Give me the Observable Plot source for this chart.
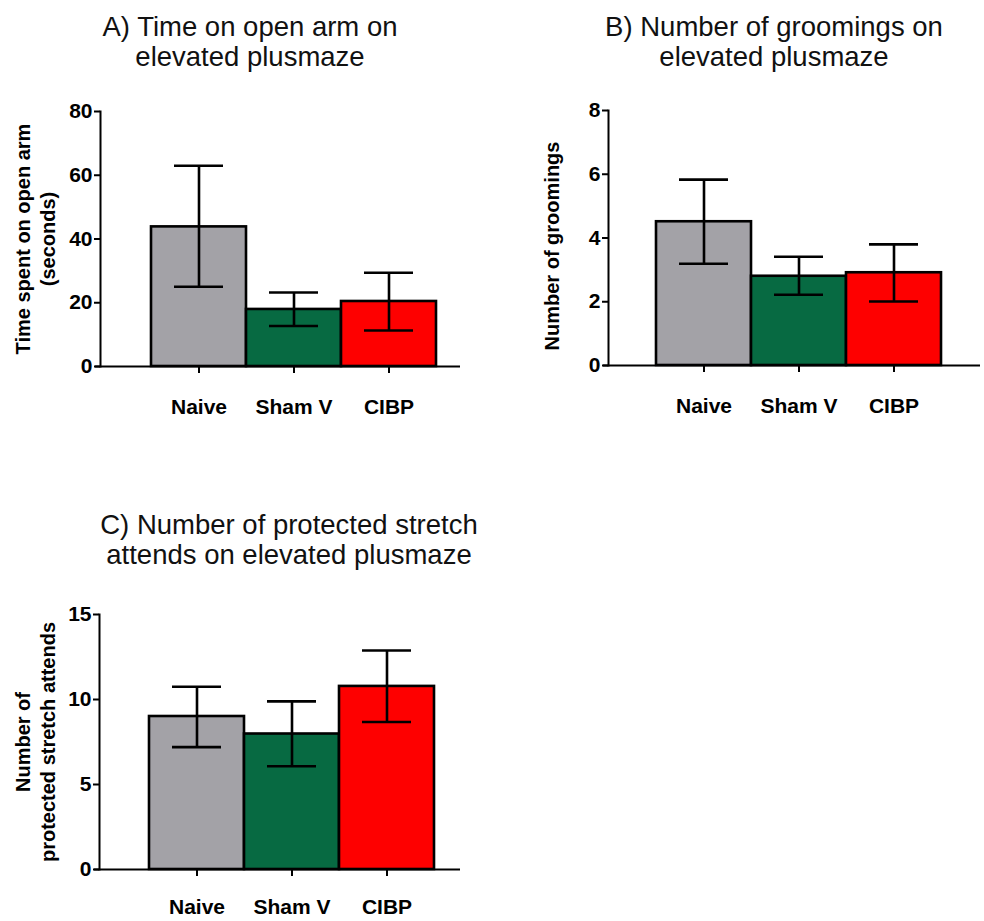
<!DOCTYPE html>
<html>
<head>
<meta charset="utf-8">
<script src="https://cdn.jsdelivr.net/npm/d3@7"></script>
<script src="https://cdn.jsdelivr.net/npm/@observablehq/plot@0.6"></script>
<style>
  html, body { margin: 0; padding: 0; background: white; }
  #root { position: relative; width: 984px; height: 921px; background: white; font-family: "Liberation Sans", Arial, sans-serif; }
  .panel { position: absolute; }
  .title { position: absolute; width: 440px; text-align: center; font-size: 27.5px; line-height: 30px; color: #111; font-family: "Liberation Sans", Arial, sans-serif; white-space: nowrap; }
</style>
</head>
<body>
<div id="root"></div>
<script>
const groups = ["Naive", "Sham V", "CIBP"];
const groupColors = ["#a3a2a7", "#076a42", "#fe0000"];

const timeMean = [43.8, 17.9, 20.4];
const timeLo   = [25.0, 12.7, 11.3];
const timeHi   = [63.0, 23.2, 29.4];
const timeTicks = [0, 20, 40, 60, 80];

const groomMean = [4.51, 2.80, 2.91];
const groomLo   = [3.19, 2.22, 2.01];
const groomHi   = [5.83, 3.41, 3.80];
const groomTicks = [0, 2, 4, 6, 8];

const stretchMean = [9.0, 7.97, 10.77];
const stretchLo   = [7.2, 6.07, 8.68];
const stretchHi   = [10.75, 9.89, 12.88];
const stretchTicks = [0, 5, 10, 15];

const titles = [
  "A) Time on open arm on<br>elevated plusmaze",
  "B) Number of groomings on<br>elevated plusmaze",
  "C) Number of protected stretch<br>attends on elevated plusmaze"
];
const yLabels = [
  "Time spent on open arm\n(seconds)",
  "Number of groomings",
  "Number of\nprotected stretch attends"
];

const root = document.getElementById("root");

function panel(cfg) {
  const rows = groups.map((g, i) => ({group: g, mean: cfg.mean[i], lo: cfg.lo[i], hi: cfg.hi[i]}));
  const ink = {stroke: "black", strokeWidth: 2.6};
  const chart = Plot.plot({
    width: cfg.width,
    height: cfg.height,
    marginTop: cfg.mt,
    marginRight: cfg.mr,
    marginBottom: cfg.mb,
    marginLeft: cfg.ml,
    style: {fontFamily: "'Liberation Sans', Arial, sans-serif", fontWeight: "bold", fontSize: "21px", color: "black", background: "white", overflow: "visible"},
    x: {domain: groups, range: cfg.xRange, padding: 0},
    y: {domain: [0, cfg.ticks[cfg.ticks.length - 1]]},
    color: {domain: groups, range: groupColors},
    marks: [
      Plot.barY(rows, {x: "group", y: "mean", fill: "group", ...ink}),
      Plot.ruleX(rows, {x: "group", y1: "lo", y2: "hi", ...ink}),
      Plot.tickY(rows, {x: "group", y: "hi", insetLeft: 23, insetRight: 23, ...ink}),
      Plot.tickY(rows, {x: "group", y: "lo", insetLeft: 23, insetRight: 23, ...ink}),
      Plot.ruleY([0], {stroke: "black", strokeWidth: 2, insetLeft: -5}),
      Plot.frame({anchor: "left", stroke: "black", strokeWidth: 2}),
      Plot.axisY({ticks: cfg.ticks, tickSize: 6, tickPadding: 2, label: null, strokeWidth: 2, fontSize: 21, fontWeight: "bold"}),
      Plot.axisX({tickSize: 7, tickPadding: cfg.xPad, label: null, strokeWidth: 2, fontSize: 21, fontWeight: "bold"}),
      Plot.text([cfg.yLabel], {frameAnchor: "left", textAnchor: "middle", rotate: -90, dx: cfg.labelDx, dy: cfg.labelDy || 0, lineHeight: 1.27, fontSize: 20, fontWeight: "bold", fill: "black"})
    ]
  });
  const wrap = document.createElement("div");
  wrap.className = "panel";
  wrap.style.left = cfg.left + "px";
  wrap.style.top = cfg.top + "px";
  wrap.style.width = cfg.width + "px";
  wrap.appendChild(chart);
  root.appendChild(wrap);
}

function title(html, cx, top) {
  const d = document.createElement("div");
  d.className = "title";
  d.innerHTML = html;
  d.style.left = (cx - 220) + "px";
  d.style.top = top + "px";
  root.appendChild(d);
}

panel({mean: timeMean, lo: timeLo, hi: timeHi, ticks: timeTicks, yLabel: yLabels[0],
  left: 0, top: 0, width: 480, height: 430, mt: 111, mb: 64, ml: 100, mr: 20,
  xRange: [150, 436], xPad: 26, labelDx: -66});
panel({mean: groomMean, lo: groomLo, hi: groomHi, ticks: groomTicks, yLabel: yLabels[1],
  left: 500, top: 0, width: 484, height: 430, mt: 110, mb: 65, ml: 108, mr: 4,
  xRange: [155, 442], xPad: 26, labelDx: -58, labelDy: 8});
panel({mean: stretchMean, lo: stretchLo, hi: stretchHi, ticks: stretchTicks, yLabel: yLabels[2],
  left: 0, top: 500, width: 480, height: 421, mt: 114, mb: 52, ml: 99, mr: 20,
  xRange: [148, 434], xPad: 23, labelDx: -65});

title(titles[0], 250, 12);
title(titles[1], 774, 12);
title(titles[2], 289, 510);
</script>
</body>
</html>
